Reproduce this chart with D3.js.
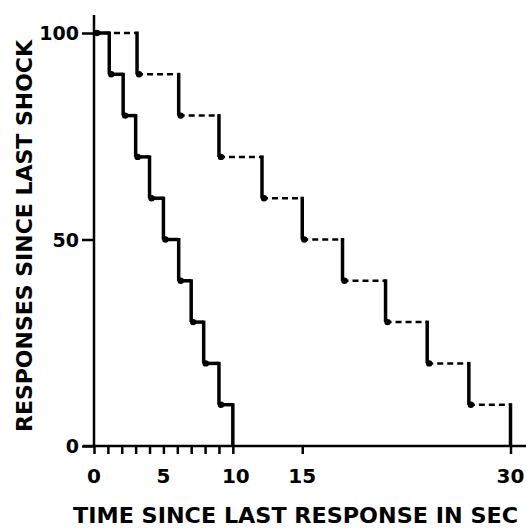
<!DOCTYPE html>
<html>
<head>
<meta charset="utf-8">
<script src="https://cdn.jsdelivr.net/npm/d3@7"></script>
<style>
  body { margin: 0; background: #fff; }
  svg { display: block; }
  text { font-family: "DejaVu Sans", sans-serif; fill: #000; font-weight: bold; }
</style>
</head>
<body>
<svg id="chart" width="526" height="528"></svg>
<script>
// times (sec) at which each step of 10 responses drops
const fastDrops = [1.1, 2.1, 3.0, 4.0, 5.0, 6.1, 7.0, 7.9, 9.0, 10.0];
const slowDrops = [3.1, 6.1, 9.0, 12.1, 15.0, 17.9, 21.0, 24.0, 27.0, 30.0];
const startLevel = 100;
const stepSize = 10;

const xTicks = [0, 1, 2, 3, 4, 5, 6, 7, 8, 9, 10, 15, 30];
const xLabels = [0, 5, 10, 15, 30];
const yTicks = [0, 50, 100];

const svg = d3.select("#chart");
const x = d3.scaleLinear().domain([0, 30]).range([94, 510.5]);
const y = d3.scaleLinear().domain([0, 100]).range([446, 33]);

// turn drop times into horizontal / vertical segments
function steps(drops) {
  const h = [], v = [], dots = [];
  let prev = 0, level = startLevel;
  drops.forEach(t => {
    h.push({x0: prev, x1: t, lvl: level});
    v.push({t: t, y0: level, y1: level - stepSize});
    level -= stepSize;
    if (level > 0) dots.push({t: t, lvl: level});
    prev = t;
  });
  return {h, v, dots};
}

// axes
const xAxis = d3.axisBottom(x).tickValues(xTicks).tickSize(8).tickFormat("");
svg.append("g")
  .attr("transform", `translate(0,${y(0)})`)
  .call(xAxis)
  .call(g => g.select(".domain").remove())
  .call(g => g.selectAll(".tick line").attr("stroke", "#000").attr("stroke-width", 2.5));

svg.append("g").selectAll("text").data(xLabels).join("text")
  .attr("x", d => x(d) + (d === 10 ? 3 : 0))
  .attr("y", 483)
  .attr("text-anchor", "middle")
  .attr("font-size", 20)
  .text(d => d);

const yAxis = d3.axisLeft(y).tickValues(yTicks).tickSize(12).tickPadding(3);
svg.append("g")
  .attr("transform", `translate(${x(0)},0)`)
  .call(yAxis)
  .call(g => g.select(".domain").remove())
  .call(g => g.selectAll(".tick line").attr("stroke", "#000").attr("stroke-width", 2.5))
  .call(g => g.selectAll(".tick text").attr("font-size", 19).attr("dy", "0.36em")
    .attr("font-family", "DejaVu Sans").attr("font-weight", "bold"));

// axis lines
svg.append("line")
  .attr("x1", x(0)).attr("x2", x(0)).attr("y1", 15).attr("y2", y(0))
  .attr("stroke", "#000").attr("stroke-width", 2.5);
svg.append("line")
  .attr("x1", 83).attr("x2", 526).attr("y1", y(0)).attr("y2", y(0))
  .attr("stroke", "#000").attr("stroke-width", 2.5);
// little cross at 100
svg.append("line")
  .attr("x1", x(0)).attr("x2", x(0) + 6).attr("y1", y(100)).attr("y2", y(100))
  .attr("stroke", "#000").attr("stroke-width", 2.5);

function drawSeries(drops, dashed) {
  const s = steps(drops);
  const g = svg.append("g");
  g.selectAll(".h").data(s.h).join("line")
    .attr("x1", d => x(d.x0)).attr("x2", d => x(d.x1))
    .attr("y1", d => y(d.lvl)).attr("y2", d => y(d.lvl))
    .attr("stroke", "#000")
    .attr("stroke-width", dashed ? 2.5 : 3.5)
    .attr("stroke-dasharray", dashed ? "6,4" : null);
  g.selectAll(".v").data(s.v).join("line")
    .attr("x1", d => x(d.t)).attr("x2", d => x(d.t))
    .attr("y1", d => y(d.y0) - 1.5).attr("y2", d => y(d.y1))
    .attr("stroke", "#000").attr("stroke-width", 3.5);
  g.selectAll("circle").data(s.dots).join("circle")
    .attr("cx", d => x(d.t) + 2).attr("cy", d => y(d.lvl))
    .attr("r", 3.2).attr("fill", "#000");
}

drawSeries(slowDrops, true);
drawSeries(fastDrops, false);
svg.append("circle").attr("cx", x(0) + 3).attr("cy", y(100)).attr("r", 3.2).attr("fill", "#000");

// axis titles
svg.append("text")
  .attr("x", 295.5).attr("y", 523)
  .attr("text-anchor", "middle")
  .attr("font-size", 21)
  .attr("textLength", 445).attr("lengthAdjust", "spacingAndGlyphs")
  .text("TIME SINCE LAST RESPONSE IN SEC");

svg.append("text")
  .attr("transform", "translate(32,236) rotate(-90)")
  .attr("text-anchor", "middle")
  .attr("font-size", 21)
  .attr("textLength", 392).attr("lengthAdjust", "spacingAndGlyphs")
  .text("RESPONSES SINCE LAST SHOCK");
</script>
</body>
</html>
